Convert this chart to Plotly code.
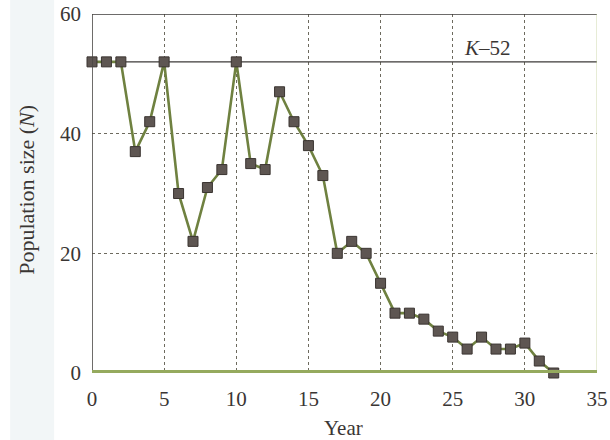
import plotly.graph_objects as go

# Population size by year
years = list(range(0, 33))
population = [52, 52, 52, 37, 42, 52, 30, 22, 31, 34,
              52, 35, 34, 47, 42, 38, 33, 20, 22, 20,
              15, 10, 10, 9, 7, 6, 4, 6, 4, 4,
              5, 2, 0]
carrying_capacity = 52
x_ticks = [0, 5, 10, 15, 20, 25, 30, 35]
y_ticks = [0, 20, 40, 60]

serif = "Liberation Serif, Times New Roman, serif"
text_col = "#3a3634"

fig = go.Figure()

# carrying capacity line
fig.add_trace(go.Scatter(
    x=[0, 35], y=[carrying_capacity, carrying_capacity], mode="lines",
    line=dict(color="#3c3a38", width=1.4), hoverinfo="skip", cliponaxis=False,
))

fig.add_trace(go.Scatter(
    x=years, y=population, mode="lines+markers",
    line=dict(color="#6f8140", width=2.6),
    marker=dict(symbol="square", size=10, color="#5e5652",
                line=dict(color="#3a3431", width=1)),
    cliponaxis=False,
))

axis_common = dict(
    showgrid=True, gridcolor="#6d6a5e", griddash="dot", gridwidth=1.2,
    zeroline=False, ticks="", showline=False, automargin=False,
    tickfont=dict(family=serif, size=21, color=text_col),
)

fig.update_xaxes(range=[0, 35], tickvals=x_ticks, ticklabelstandoff=11, **axis_common)
fig.update_yaxes(range=[0, 60], tickvals=y_ticks, ticklabelstandoff=10, **axis_common)

shapes = [
    # faint tint along the left edge of the page
    dict(type="rect", xref="paper", yref="paper", x0=-0.162, x1=-0.075, y0=-0.187, y1=1.039,
         fillcolor="#f2f6f7", line=dict(width=0), layer="below"),
    # top frame line
    dict(type="line", xref="x", yref="y", x0=0, x1=35, y0=60, y1=60,
         line=dict(color="#3c3a38", width=1.4)),
    # left axis line
    dict(type="line", xref="x", yref="y", x0=0, x1=0, y0=0, y1=60,
         line=dict(color="#4a4744", width=1.6)),
    # right green edge bar
    dict(type="line", xref="x", yref="y", x0=35.25, x1=35.25, y0=-0.3, y1=60.3,
         line=dict(color="#c3cf98", width=8)),
    # bottom green axis bar
    dict(type="line", xref="x", yref="y", x0=0, x1=35, y0=0, y1=0,
         line=dict(color="#95aa5e", width=6)),
]

annotations = [
    dict(x=27.4, y=54.4, xref="x", yref="y", text="<i>K</i>–52", showarrow=False,
         font=dict(family=serif, size=21, color=text_col)),
    dict(x=0.5, y=-0.152, xref="paper", yref="paper", text="Year", showarrow=False,
         xanchor="center", yanchor="middle", xshift=-1,
         font=dict(family=serif, size=21, color=text_col)),
    dict(x=-0.129, y=0.51, xref="paper", yref="paper", text="Population size (<i>N</i>)",
         showarrow=False, textangle=-90, xanchor="center", yanchor="middle",
         font=dict(family=serif, size=22, color=text_col)),
]

fig.update_layout(
    width=610, height=440,
    margin=dict(l=92, r=13, t=14, b=67),
    paper_bgcolor="white", plot_bgcolor="white",
    showlegend=False,
    shapes=shapes, annotations=annotations,
)

fig.write_html("out.html")
